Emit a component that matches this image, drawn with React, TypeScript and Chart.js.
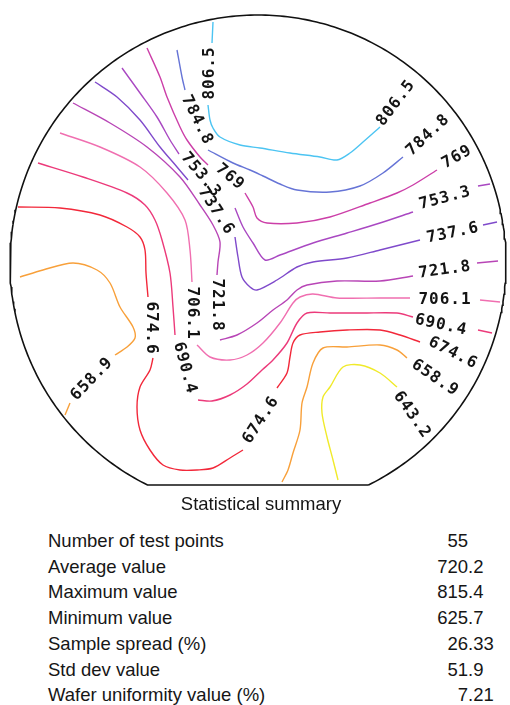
import { useEffect, useRef } from "react";
import { Chart, registerables } from "chart.js";

Chart.register(...registerables);

// Wafer geometry (mm, origin at the wafer centre, +y up)
const WAFER_RADIUS = 99.2;
const FLAT_Y = -88.8;

// Contour levels, highest first
const LEVELS = [806.5, 784.8, 769, 753.3, 737.6, 721.8, 706.1, 690.4, 674.6, 658.9, 643.2];

// Iso-lines: each level is a list of polyline pieces [x, y] (mm); pieces break where a tag sits
const ISO_806_5 = [
  [[-18.0, 96.4], [-18.4, 88.0]],
  [[-20.0, 63.2], [-19.2, 57.2], [-18.0, 54.0], [-15.2, 50.4], [-7.2, 47.2], [0.8, 46.0], [12.8, 44.0],
   [24.8, 42.4], [31.6, 41.2], [36.8, 44.0], [42.0, 48.4], [48.8, 54.4]],
];
const ISO_784_8 = [
  [[-32.4, 85.2], [-30.4, 74.4], [-29.2, 69.2]],
  [[-20.0, 45.2], [-10.0, 40.0], [-3.2, 37.2], [2.0, 34.8], [8.8, 31.6], [15.6, 29.2], [28.8, 28.4],
   [40.8, 30.8], [50.0, 36.0], [58.0, 42.4]],
];
const ISO_769 = [
  [[-44.4, 86.0], [-39.2, 74.4], [-36.4, 66.4], [-31.2, 54.4], [-28.4, 49.2], [-23.2, 42.4], [-20.0, 39.2]],
  [[-5.2, 28.0], [-2.0, 22.4], [-0.4, 18.0], [3.6, 16.0], [15.6, 16.0], [28.8, 18.4], [44.8, 24.0],
   [55.6, 28.0], [62.0, 31.2], [71.6, 37.2]],
];
const ISO_753_3 = [
  [[-54.4, 78.0], [-47.2, 68.0], [-40.4, 58.4], [-35.2, 49.2], [-31.6, 43.6]],
  [[-9.2, 22.0], [-6.0, 14.4], [-2.0, 8.0], [2.8, 1.2], [8.8, 3.2], [22.0, 8.0], [35.6, 12.0],
   [48.8, 16.0], [62.0, 20.4]],
  [[88.0, 30.8], [92.8, 31.6]],
];
const ISO_737_6 = [
  [[-65.2, 72.4], [-56.4, 66.4], [-47.2, 57.2], [-39.2, 46.4], [-32.4, 38.4], [-28.0, 33.2]],
  [[-9.2, 10.4], [-8.0, 2.4], [-6.4, -5.6], [-3.2, -9.6], [-0.4, -10.8], [7.6, -6.8], [15.6, -1.6],
   [22.0, 0.4], [35.6, 2.0], [48.8, 5.2], [64.8, 9.2]],
  [[90.0, 15.2], [95.6, 16.4]],
];
const ISO_721_8 = [
  [[-74.0, 64.0], [-59.2, 56.0], [-44.4, 46.4], [-31.2, 34.4], [-23.2, 23.2], [-18.0, 15.2], [-15.2, 8.4],
   [-16.0, 0.4], [-16.4, -4.8]],
  [[-15.2, -30.8], [-8.4, -28.8], [-0.4, -24.0], [6.0, -18.8], [11.6, -14.8], [15.6, -10.8], [19.6, -8.8],
   [31.6, -7.2], [48.8, -7.2], [62.0, -5.2]],
  [[87.6, 0.0], [96.0, 0.8]],
];
const ISO_706_1 = [
  [[-79.2, 52.0], [-63.2, 46.4], [-47.2, 38.4], [-36.4, 28.0], [-29.2, 17.2], [-27.2, 5.2], [-26.4, -7.6]],
  [[-24.4, -32.8], [-19.2, -37.6], [-11.2, -38.8], [-4.4, -36.8], [2.0, -32.0], [8.8, -24.0], [14.0, -16.0],
   [16.8, -13.6], [22.0, -12.4], [31.6, -14.0], [48.8, -14.0], [60.8, -14.0]],
  [[88.8, -14.8], [96.8, -15.6]],
];
const ISO_690_4 = [
  [[-88.0, 40.0], [-70.0, 34.4], [-52.4, 28.0], [-45.2, 23.2], [-41.2, 17.2], [-38.4, 9.2], [-35.2, -4.0],
   [-34.0, -17.6], [-33.2, -28.8]],
  [[-24.0, -54.8], [-18.4, -55.2], [-11.2, -52.8], [-4.4, -48.4], [1.6, -42.8], [6.0, -38.8], [11.6, -32.0],
   [15.6, -24.0], [19.6, -20.0], [28.8, -20.0], [42.0, -20.0], [55.6, -20.0], [62.0, -21.6]],
  [[88.0, -26.8], [93.6, -28.0]],
];
const ISO_674_6 = [
  [[-96.0, 22.4], [-79.2, 22.0], [-63.2, 19.2], [-52.4, 14.4], [-47.2, 10.4], [-45.2, 5.2], [-44.8, -4.0],
   [-44.0, -13.6]],
  [[-42.0, -38.0], [-43.2, -42.8], [-47.2, -49.6], [-48.4, -57.6], [-47.2, -66.8], [-43.2, -74.8],
   [-38.0, -80.8], [-31.2, -82.8], [-24.4, -82.8], [-18.0, -82.0], [-11.2, -78.0], [-6.0, -74.8]],
  [[7.6, -50.0], [11.6, -44.0], [12.8, -37.6], [14.0, -32.0], [16.8, -28.8], [24.8, -27.6], [35.6, -26.8],
   [48.8, -26.8], [56.8, -28.8], [64.8, -31.6]],
];
const ISO_658_9 = [
  [[-95.2, -5.6], [-86.0, -2.8], [-74.0, 0.0], [-64.4, -2.8], [-59.2, -8.0], [-55.2, -17.6], [-50.0, -25.6],
   [-49.2, -30.0], [-52.4, -33.6], [-57.2, -36.8]],
  [[-75.2, -56.0], [-77.2, -60.8]],
  [[9.6, -87.6], [12.0, -82.8], [14.0, -76.0], [16.8, -66.8], [17.6, -56.0], [19.6, -49.6], [22.0, -40.0],
   [26.0, -34.0], [35.6, -33.6], [48.8, -32.8], [55.6, -34.8], [59.6, -38.0]],
];
const ISO_643_2 = [
  [[32.0, -86.8], [30.0, -78.8], [27.6, -69.6], [25.6, -60.0], [26.0, -53.6], [28.8, -49.6], [34.0, -41.6],
   [40.8, -40.8], [48.8, -44.0], [55.6, -49.6]],
];

// Level tags: [x, y, rotation in degrees]
const TAGS_806_5 = [[-19.2, 76.0, -90], [55.2, 64.0, -53]];
const TAGS_784_8 = [[-24.4, 57.2, 64], [68.0, 51.2, -43]];
const TAGS_769 = [[-11.2, 34.4, 40], [79.6, 42.4, -30]];
const TAGS_753_3 = [[-22.8, 35.2, 50], [74.8, 26.0, -15]];
const TAGS_737_6 = [[-16.8, 20.8, 57], [78.0, 12.0, -12]];
const TAGS_721_8 = [[-16.4, -16.8, 90], [74.8, -2.8, -8]];
const TAGS_706_1 = [[-26.4, -20.0, 90], [74.8, -14.8, 0]];
const TAGS_690_4 = [[-29.2, -42.0, 75], [73.2, -24.8, 12]];
const TAGS_674_6 = [[-42.8, -26.0, 90], [1.2, -62.8, -57], [78.0, -36.0, 27]];
const TAGS_658_9 = [[-66.4, -46.4, -46], [70.8, -46.0, 34]];
const TAGS_643_2 = [[61.6, -60.8, 55]];

// Summary table
const STAT_NAMES = [
  "Number of test points",
  "Average value",
  "Maximum value",
  "Minimum value",
  "Sample spread (%)",
  "Std dev value",
  "Wafer uniformity value (%)",
];
const STAT_VALUES = ["55", "720.2", "815.4", "625.7", "26.33", "51.9", "7.21"];

const CONTOUR_LINES = [ISO_806_5, ISO_784_8, ISO_769, ISO_753_3, ISO_737_6, ISO_721_8, ISO_706_1, ISO_690_4, ISO_674_6, ISO_658_9, ISO_643_2];
const CONTOUR_TAGS = [TAGS_806_5, TAGS_784_8, TAGS_769, TAGS_753_3, TAGS_737_6, TAGS_721_8, TAGS_706_1, TAGS_690_4, TAGS_674_6, TAGS_658_9, TAGS_643_2];
const CONTOUR_COLORS = [
  "#4cc4f2", "#6674d6", "#cc3fa8", "#a948c2", "#7f4acb", "#b845b6",
  "#f06fb0", "#ec3a7a", "#f2283a", "#f8a03a", "#f0ea2a",
];

const CANVAS_W = 510;
const CANVAS_H = 500;
const PX_PER_MM = 2.5;
const CENTER_PX = { x: 258, y: 263 };

const levelText = (v: number) => (Number.isInteger(v) ? String(v) : v.toFixed(1));

function waferOutline() {
  const hw = Math.sqrt(WAFER_RADIUS * WAFER_RADIUS - FLAT_Y * FLAT_Y);
  const a0 = Math.atan2(FLAT_Y, hw);
  const a1 = Math.atan2(FLAT_Y, -hw) + 2 * Math.PI;
  const pts: { x: number; y: number }[] = [];
  const n = 360;
  for (let i = 0; i <= n; i++) {
    const a = a0 + ((a1 - a0) * i) / n;
    pts.push({ x: WAFER_RADIUS * Math.cos(a), y: WAFER_RADIUS * Math.sin(a) });
  }
  pts.push({ x: hw, y: FLAT_Y });
  return pts;
}

const tagPlugin = {
  id: "contourTags",
  afterDatasetsDraw(chart: any) {
    const { ctx, scales } = chart;
    ctx.save();
    ctx.font = 'bold 16px "DejaVu Sans Mono", monospace';
    (ctx as any).letterSpacing = "1px";
    ctx.fillStyle = "#141414";
    ctx.textAlign = "center";
    ctx.textBaseline = "middle";
    CONTOUR_TAGS.forEach((tags, i) => {
      const text = levelText(LEVELS[i]);
      tags.forEach(([u, v, deg]) => {
        ctx.save();
        ctx.translate(scales.x.getPixelForValue(u), scales.y.getPixelForValue(v));
        ctx.rotate((deg * Math.PI) / 180);
        ctx.fillText(text, 0, 0);
        ctx.restore();
      });
    });
    ctx.restore();
  },
};

const FONT = '"Liberation Sans", Arial, sans-serif';
const FONT_PX = 18.5;
const BASE_OFFSET = FONT_PX * 0.8465; // baseline offset for line-height 1
const DEC_X = 468;

export default function App() {
  const ref = useRef<HTMLCanvasElement | null>(null);

  useEffect(() => {
    if (!ref.current) return;
    const datasets: any[] = [];
    CONTOUR_LINES.forEach((pieces, i) => {
      pieces.forEach((piece) => {
        datasets.push({
          data: piece.map(([x, y]) => ({ x, y })),
          borderColor: CONTOUR_COLORS[i],
          borderWidth: 1.4,
          showLine: true,
          pointRadius: 0,
          tension: 0.3,
          fill: false,
        });
      });
    });
    datasets.push({
      data: waferOutline(),
      borderColor: "#111",
      borderWidth: 1.6,
      showLine: true,
      pointRadius: 0,
      tension: 0,
      fill: false,
    });

    const chart = new Chart(ref.current, {
      type: "scatter",
      data: { datasets },
      options: {
        animation: false,
        responsive: false,
        maintainAspectRatio: false,
        layout: { padding: 0 },
        plugins: { legend: { display: false }, tooltip: { enabled: false } },
        scales: {
          x: {
            type: "linear",
            display: false,
            min: -CENTER_PX.x / PX_PER_MM,
            max: (CANVAS_W - CENTER_PX.x) / PX_PER_MM,
          },
          y: {
            type: "linear",
            display: false,
            min: (CENTER_PX.y - CANVAS_H) / PX_PER_MM,
            max: CENTER_PX.y / PX_PER_MM,
          },
        },
      },
      plugins: [tagPlugin],
    });
    return () => chart.destroy();
  }, []);

  const textStyle = (baseline: number): any => ({
    position: "absolute",
    top: baseline - BASE_OFFSET,
    fontFamily: FONT,
    fontSize: FONT_PX,
    lineHeight: 1,
    color: "#161616",
    whiteSpace: "nowrap",
  });

  return (
    <div style={{ position: "absolute", left: 0, top: 0, width: 510, height: 705, background: "#fff", overflow: "hidden" }}>
      <canvas ref={ref} width={CANVAS_W} height={CANVAS_H} style={{ position: "absolute", left: 0, top: 0 }} />
      <div style={{ ...textStyle(510.5), left: 0, width: 522, textAlign: "center" }}>Statistical summary</div>
      {STAT_NAMES.map((name, i) => {
        const baseline = 547.7 + 25.7 * i;
        const value = STAT_VALUES[i];
        const dot = value.indexOf(".");
        const intPart = dot < 0 ? value : value.slice(0, dot);
        const fracPart = dot < 0 ? "" : value.slice(dot);
        return (
          <div key={name}>
            <div style={{ ...textStyle(baseline), left: 48 }}>{name}</div>
            <div style={{ ...textStyle(baseline), right: 510 - DEC_X, textAlign: "right" }}>{intPart}</div>
            {fracPart && <div style={{ ...textStyle(baseline), left: DEC_X }}>{fracPart}</div>}
          </div>
        );
      })}
    </div>
  );
}
